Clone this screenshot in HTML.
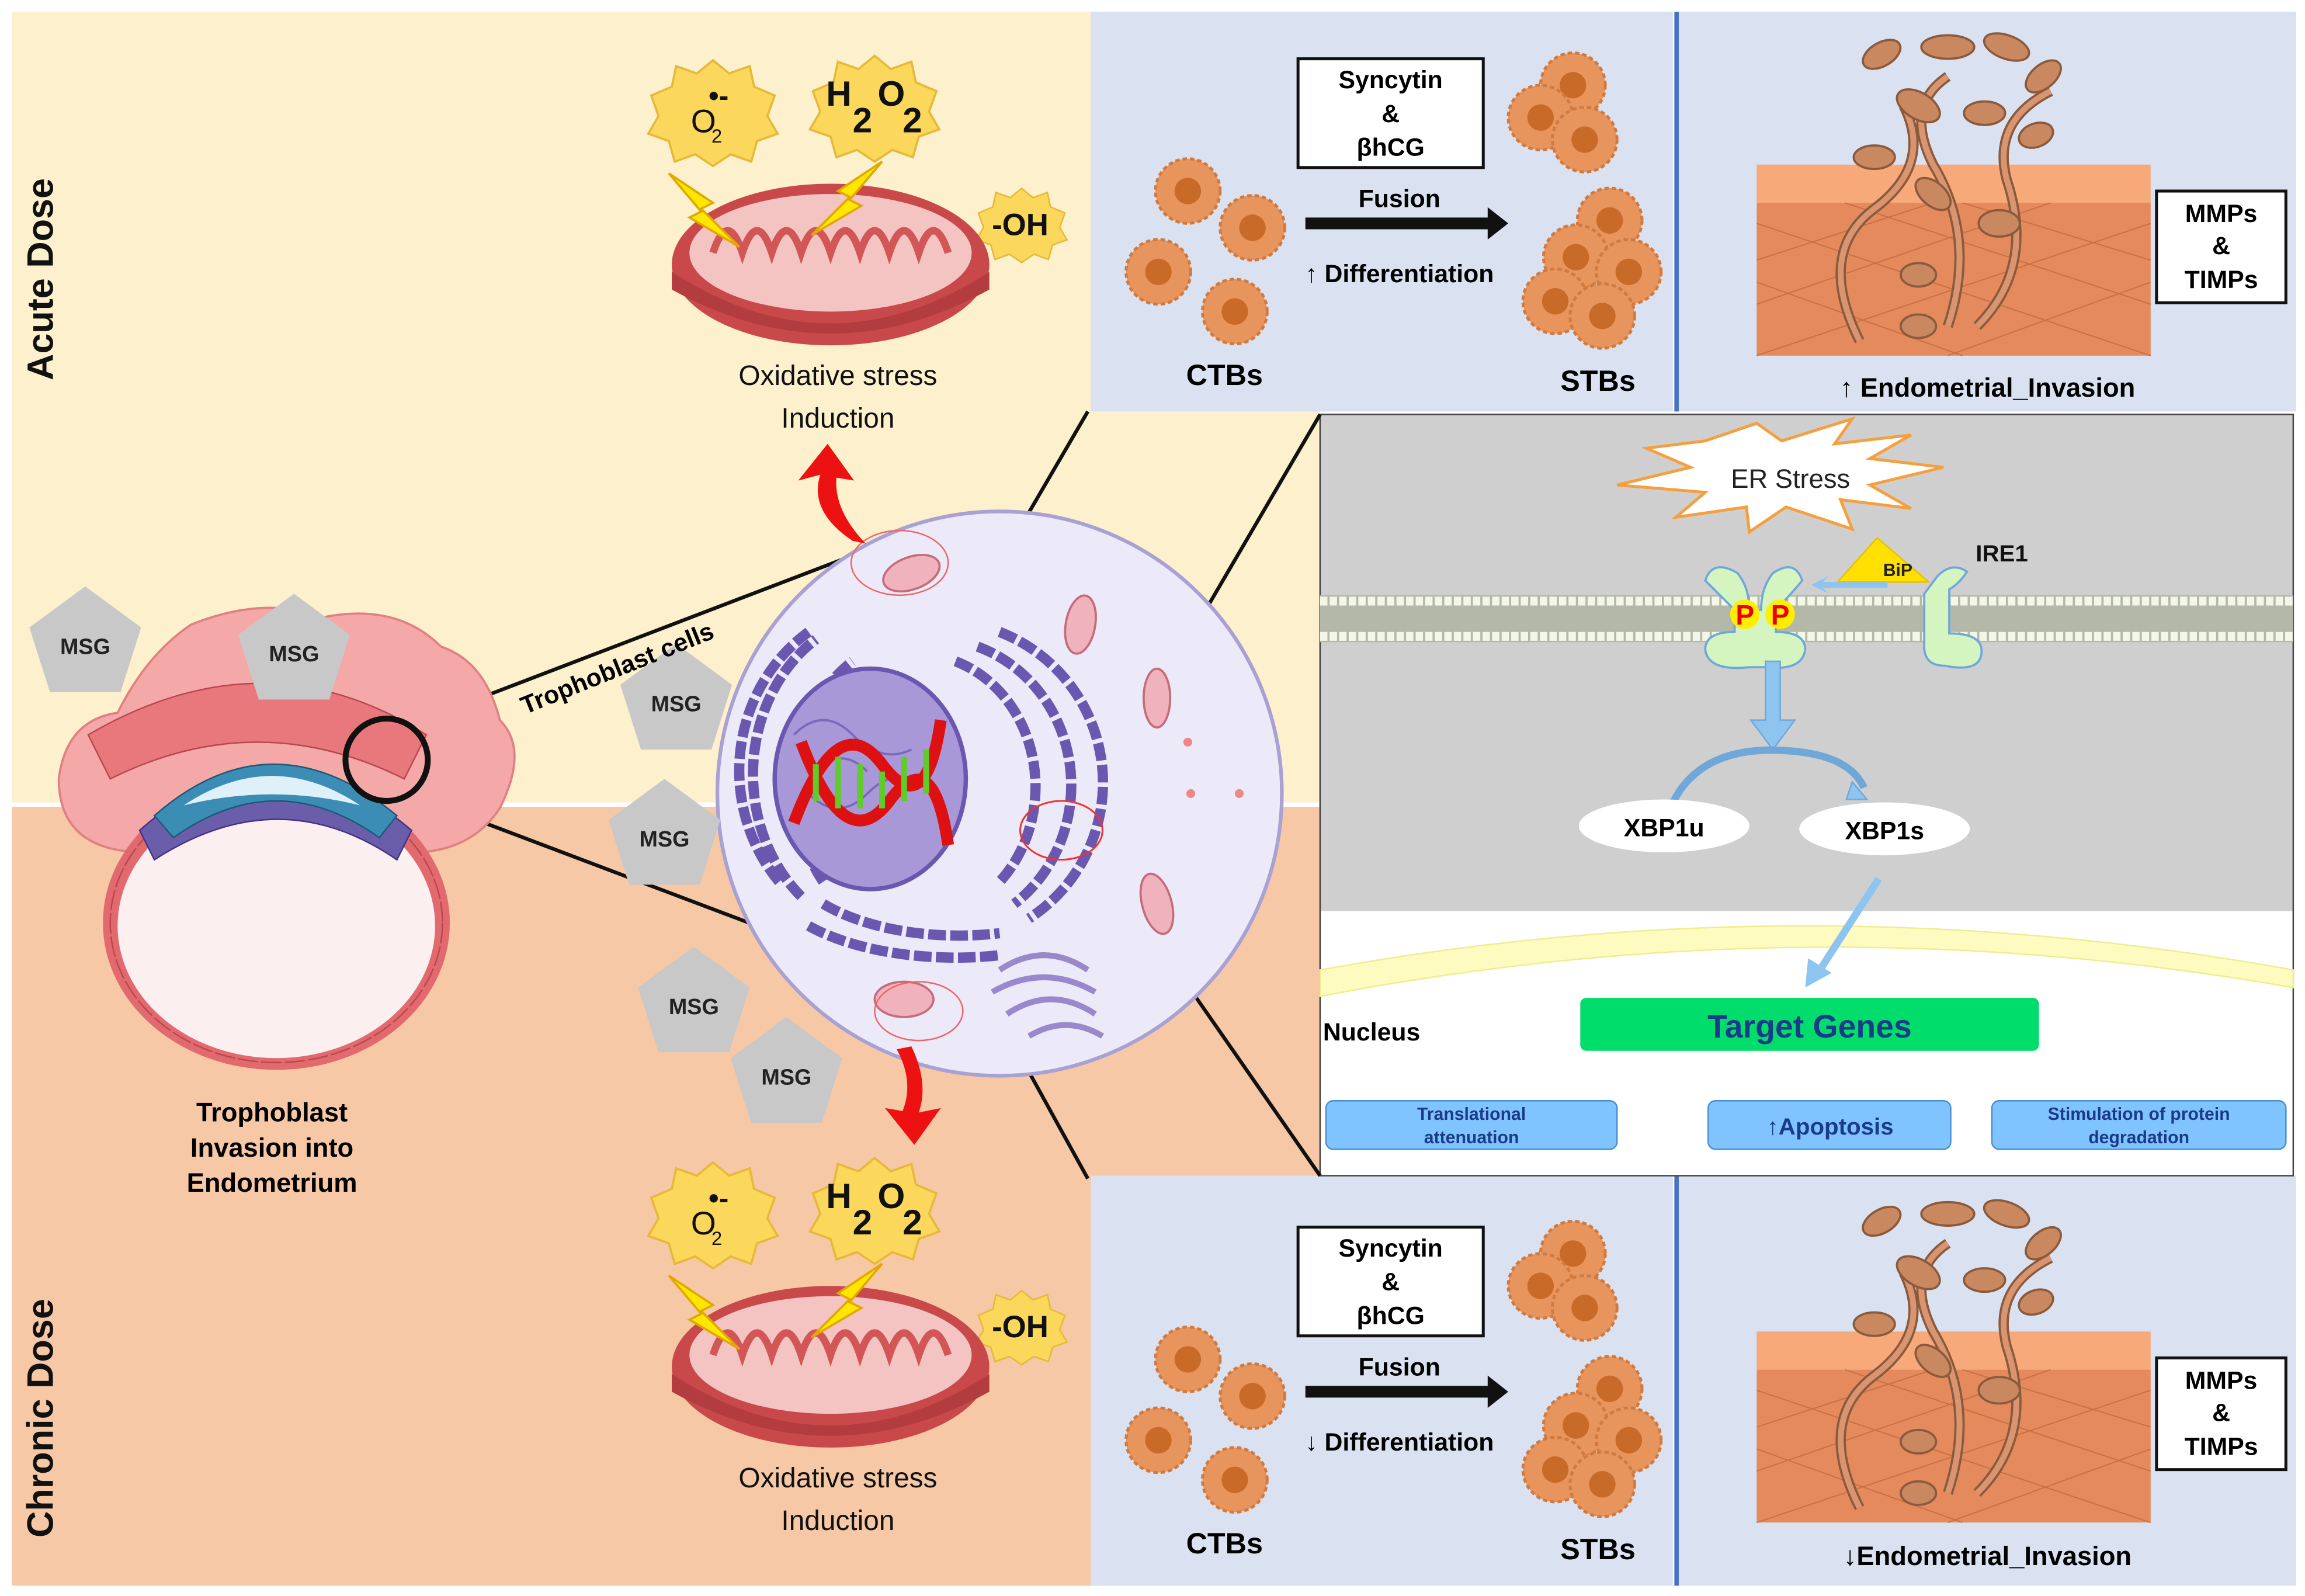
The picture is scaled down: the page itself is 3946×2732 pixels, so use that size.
<!DOCTYPE html>
<html><head><meta charset="utf-8"><style>
html,body{margin:0;padding:0;background:#fff}
svg{display:block}
text{font-family:"Liberation Sans",sans-serif}
</style></head><body>
<svg width="3946" height="2732" viewBox="0 0 1568 1086" preserveAspectRatio="none" xmlns="http://www.w3.org/2000/svg">
<defs>
<g id="mito">
 <ellipse cx="0" cy="0" rx="108" ry="55" fill="#c9494b"/>
 <ellipse cx="0" cy="-8" rx="96" ry="40" fill="#f4c4c2"/>
 <path d="M-80,-8 q10,-30 20,0 q10,-30 20,0 q10,-30 20,0 q10,-30 20,0 q10,-30 20,0 q10,-30 20,0 q10,-30 20,0 q10,-30 20,0" fill="none" stroke="#d25656" stroke-width="5"/>
 <path d="M-108,5 q108,70 216,0 v12 q-108,60 -216,0z" fill="#b23c3e"/>
</g>
<g id="ros">
 <path d="M0,-34 L11,-25 L25,-30 L28,-16 L42,-10 L37,4 L44,16 L30,21 L26,35 L12,30 L0,38 L-12,30 L-26,35 L-30,21 L-44,16 L-37,4 L-42,-10 L-28,-16 L-25,-30 L-11,-25z" fill="#fbd85b" stroke="#e6b93a" stroke-width="1.5"/>
</g>
<g id="bolt"><path d="M0,0 L30,20 L22,24 L48,50 L14,30 L22,26z" fill="#ffe600" stroke="#e0a800" stroke-width="1.5"/></g>
<g id="ctb"><circle r="22" fill="#e8955d" stroke="#d07a40" stroke-width="2" stroke-dasharray="3 2"/><circle r="9" fill="#c86a28"/></g>
<g id="msg"><path d="M0,-38 L38,-10 L24,34 L-24,34 L-38,-10z" fill="#c8c8c8"/><text x="0" y="8" text-anchor="middle" font-size="15" font-weight="bold" fill="#222">MSG</text></g>
<g id="inv">
 <rect x="0" y="100" width="268" height="26" fill="#f8a97a"/>
 <rect x="0" y="126" width="268" height="104" fill="#e48a5c"/>
 <path d="M0,140 L268,230 M0,180 L140,230 M60,126 L268,195 M140,126 L268,165 M268,140 L0,230 M268,180 L130,230 M200,126 L0,195 M120,126 L0,165" stroke="#c87046" stroke-width="0.8"/>
 <path d="M70,220 q-30,-60 10,-90 q40,-30 20,-70 M130,210 q20,-60 -10,-110 q-20,-40 10,-60 M150,210 q40,-40 20,-100 q-10,-40 30,-60" fill="none" stroke="#8a5a3c" stroke-width="7"/>
 <path d="M70,220 q-30,-60 10,-90 q40,-30 20,-70 M130,210 q20,-60 -10,-110 q-20,-40 10,-60 M150,210 q40,-40 20,-100 q-10,-40 30,-60" fill="none" stroke="#d99470" stroke-width="4"/>
 <g fill="#c98860" stroke="#8a5a3c" stroke-width="1.5">
  <ellipse cx="85" cy="25" rx="14" ry="8" transform="rotate(-30 85 25)"/>
  <ellipse cx="130" cy="20" rx="18" ry="8"/>
  <ellipse cx="170" cy="20" rx="16" ry="8" transform="rotate(20 170 20)"/>
  <ellipse cx="195" cy="40" rx="14" ry="8" transform="rotate(-40 195 40)"/>
  <ellipse cx="110" cy="60" rx="16" ry="9" transform="rotate(30 110 60)"/>
  <ellipse cx="155" cy="65" rx="14" ry="8"/>
  <ellipse cx="80" cy="95" rx="14" ry="8"/>
  <ellipse cx="120" cy="120" rx="14" ry="8" transform="rotate(40 120 120)"/>
  <ellipse cx="165" cy="140" rx="14" ry="9"/>
  <ellipse cx="110" cy="175" rx="12" ry="8"/>
  <ellipse cx="190" cy="80" rx="12" ry="8" transform="rotate(-20 190 80)"/>
  <ellipse cx="110" cy="210" rx="12" ry="8"/>
 </g>
</g>
</defs>

<!-- backgrounds -->
<rect x="0" y="0" width="1568" height="1086" fill="#fff"/>
<rect x="8" y="8" width="890" height="538" fill="#fdf0cd"/>
<rect x="8" y="549" width="890" height="530" fill="#f6c8a6"/>
<rect x="742" y="8" width="396" height="272" fill="#dae2f1"/>
<rect x="1142" y="8" width="420" height="272" fill="#dae2f1"/>
<rect x="1139" y="8" width="3" height="272" fill="#4472c4"/>
<rect x="742" y="800" width="396" height="279" fill="#dae2f1"/>
<rect x="1142" y="800" width="420" height="279" fill="#dae2f1"/>
<rect x="1139" y="800" width="3" height="279" fill="#4472c4"/>
<rect x="898" y="282" width="662" height="338" fill="#d0cfd0"/>
<rect x="898" y="620" width="662" height="180" fill="#fff"/>
<rect x="898" y="282" width="662" height="518" fill="none" stroke="#444" stroke-width="1"/>

<text transform="translate(36,190) rotate(-90)" text-anchor="middle" font-size="25" font-weight="bold" fill="#111">Acute Dose</text>
<text transform="translate(36,965) rotate(-90)" text-anchor="middle" font-size="25" font-weight="bold" fill="#111">Chronic Dose</text>

<!-- ROS + mito top -->
<g>
 <use href="#ros" x="485" y="75"/><text x="470" y="90" font-size="22" fill="#111">O</text><text x="484" y="97" font-size="13" fill="#111">2</text><text x="482" y="72" font-size="20" font-weight="bold" fill="#111">•-</text>
 <use href="#ros" x="595" y="72"/><text x="562" y="72" font-size="24" font-weight="bold" fill="#111">H</text><text x="580" y="90" font-size="24" font-weight="bold" fill="#111">2</text><text x="597" y="72" font-size="24" font-weight="bold" fill="#111">O</text><text x="614" y="90" font-size="24" font-weight="bold" fill="#111">2</text>
 <use href="#ros" x="695" y="152" transform="translate(208.5 45.6) scale(0.7)" />
 <use href="#mito" x="565" y="180"/>
 <use href="#bolt" x="455" y="118"/><use href="#bolt" x="660" y="110" transform="translate(1260 0) scale(-1 1)"/>
 <text x="694" y="160" text-anchor="middle" font-size="21" font-weight="bold" fill="#111">-OH</text>
 <text x="570" y="262" text-anchor="middle" font-size="19" fill="#111">Oxidative stress</text>
 <text x="570" y="291" text-anchor="middle" font-size="19" fill="#111">Induction</text>
</g>
<g transform="translate(0,750)">
 <use href="#ros" x="485" y="75"/><text x="470" y="90" font-size="22" fill="#111">O</text><text x="484" y="97" font-size="13" fill="#111">2</text><text x="482" y="72" font-size="20" font-weight="bold" fill="#111">•-</text>
 <use href="#ros" x="595" y="72"/><text x="562" y="72" font-size="24" font-weight="bold" fill="#111">H</text><text x="580" y="90" font-size="24" font-weight="bold" fill="#111">2</text><text x="597" y="72" font-size="24" font-weight="bold" fill="#111">O</text><text x="614" y="90" font-size="24" font-weight="bold" fill="#111">2</text>
 <use href="#ros" x="695" y="152" transform="translate(208.5 45.6) scale(0.7)" />
 <use href="#mito" x="565" y="180"/>
 <use href="#bolt" x="455" y="118"/><use href="#bolt" x="660" y="110" transform="translate(1260 0) scale(-1 1)"/>
 <text x="694" y="160" text-anchor="middle" font-size="21" font-weight="bold" fill="#111">-OH</text>
 <text x="570" y="262" text-anchor="middle" font-size="19" fill="#111">Oxidative stress</text>
 <text x="570" y="291" text-anchor="middle" font-size="19" fill="#111">Induction</text>
</g>

<!-- CTB/STB -->
<g>
 <use href="#ctb" x="808" y="130"/><use href="#ctb" x="852" y="155"/><use href="#ctb" x="788" y="185"/><use href="#ctb" x="840" y="212"/>
 <use href="#ctb" x="1070" y="58"/><use href="#ctb" x="1048" y="80"/><use href="#ctb" x="1078" y="95"/>
 <use href="#ctb" x="1095" y="150"/><use href="#ctb" x="1072" y="175"/><use href="#ctb" x="1108" y="185"/><use href="#ctb" x="1058" y="205"/><use href="#ctb" x="1090" y="215"/>
 <rect x="883" y="40" width="126" height="74" fill="#fff" stroke="#111" stroke-width="2"/>
 <text x="946" y="60" text-anchor="middle" font-size="17" font-weight="bold">Syncytin</text>
 <text x="946" y="83" text-anchor="middle" font-size="17" font-weight="bold">&amp;</text>
 <text x="946" y="106" text-anchor="middle" font-size="17" font-weight="bold">βhCG</text>
 <text x="952" y="141" text-anchor="middle" font-size="17" font-weight="bold">Fusion</text>
 <path d="M888,148 H1012 V141 L1026,152 L1012,163 V156 H888z" fill="#111"/>
 <text x="952" y="192" text-anchor="middle" font-size="17" font-weight="bold">↑ Differentiation</text>
 <text x="833" y="262" text-anchor="middle" font-size="20" font-weight="bold">CTBs</text>
 <text x="1087" y="266" text-anchor="middle" font-size="20" font-weight="bold">STBs</text>
</g>
<g transform="translate(0,795)">
 <use href="#ctb" x="808" y="130"/><use href="#ctb" x="852" y="155"/><use href="#ctb" x="788" y="185"/><use href="#ctb" x="840" y="212"/>
 <use href="#ctb" x="1070" y="58"/><use href="#ctb" x="1048" y="80"/><use href="#ctb" x="1078" y="95"/>
 <use href="#ctb" x="1095" y="150"/><use href="#ctb" x="1072" y="175"/><use href="#ctb" x="1108" y="185"/><use href="#ctb" x="1058" y="205"/><use href="#ctb" x="1090" y="215"/>
 <rect x="883" y="40" width="126" height="74" fill="#fff" stroke="#111" stroke-width="2"/>
 <text x="946" y="60" text-anchor="middle" font-size="17" font-weight="bold">Syncytin</text>
 <text x="946" y="83" text-anchor="middle" font-size="17" font-weight="bold">&amp;</text>
 <text x="946" y="106" text-anchor="middle" font-size="17" font-weight="bold">βhCG</text>
 <text x="952" y="141" text-anchor="middle" font-size="17" font-weight="bold">Fusion</text>
 <path d="M888,148 H1012 V141 L1026,152 L1012,163 V156 H888z" fill="#111"/>
 <text x="952" y="192" text-anchor="middle" font-size="17" font-weight="bold">↓ Differentiation</text>
 <text x="833" y="262" text-anchor="middle" font-size="20" font-weight="bold">CTBs</text>
 <text x="1087" y="266" text-anchor="middle" font-size="20" font-weight="bold">STBs</text>
</g>

<!-- invasion panels -->
<use href="#inv" x="1195" y="12"/>
<rect x="1467" y="130" width="88" height="76" fill="#fff" stroke="#111" stroke-width="2"/>
<text x="1511" y="151" text-anchor="middle" font-size="17" font-weight="bold">MMPs</text>
<text x="1511" y="173" text-anchor="middle" font-size="17" font-weight="bold">&amp;</text>
<text x="1511" y="196" text-anchor="middle" font-size="17" font-weight="bold">TIMPs</text>
<text x="1352" y="270" text-anchor="middle" font-size="18" font-weight="bold">↑ Endometrial_Invasion</text>
<use href="#inv" x="1195" y="806"/>
<rect x="1467" y="924" width="88" height="76" fill="#fff" stroke="#111" stroke-width="2"/>
<text x="1511" y="945" text-anchor="middle" font-size="17" font-weight="bold">MMPs</text>
<text x="1511" y="967" text-anchor="middle" font-size="17" font-weight="bold">&amp;</text>
<text x="1511" y="990" text-anchor="middle" font-size="17" font-weight="bold">TIMPs</text>
<text x="1352" y="1065" text-anchor="middle" font-size="18" font-weight="bold">↓Endometrial_Invasion</text>

<!-- ER panel -->
<path d="M1120,305 L1160,300 L1195,288 L1212,300 L1260,285 L1248,302 L1300,296 L1272,312 L1322,318 L1272,330 L1300,346 L1252,340 L1260,360 L1215,345 L1190,362 L1188,345 L1140,352 L1160,335 L1100,330 L1150,318z" fill="#fff" stroke="#f5a040" stroke-width="2"/>
<text x="1218" y="332" text-anchor="middle" font-size="18" fill="#222">ER Stress</text>
<rect x="898" y="405" width="662" height="32" fill="#b4b8a8"/>
<line x1="898" y1="409" x2="1560" y2="409" stroke="#f4f7e8" stroke-width="6" stroke-dasharray="5 1.5"/>
<line x1="898" y1="433" x2="1560" y2="433" stroke="#f4f7e8" stroke-width="6" stroke-dasharray="5 1.5"/>
<path d="M1160,395 q5,-15 22,-5 q8,10 8,25 h8 q0,-15 8,-25 q15,-10 20,5 q-10,12 -18,20 v15 q20,0 20,12 q-2,15 -28,12 h-10 q-28,3 -30,-12 q0,-12 20,-12 v-15 q-8,-8 -20,-20z" fill="#d5f5c0" stroke="#6fa8d8" stroke-width="1.5"/>
<circle cx="1187" cy="418" r="10" fill="#ffee00"/><circle cx="1211" cy="418" r="10" fill="#ffee00"/>
<text x="1187" y="425" text-anchor="middle" font-size="19" font-weight="bold" fill="#e00">P</text>
<text x="1211" y="425" text-anchor="middle" font-size="19" font-weight="bold" fill="#e00">P</text>
<path d="M1318,392 q10,-10 20,-3 q-5,8 -12,12 v30 q22,0 22,12 q0,15 -25,10 q-15,0 -14,-15 v-34z" fill="#d5f5c0" stroke="#6fa8d8" stroke-width="1.5"/>
<path d="M1250,396 L1277,366 L1312,396z" fill="#ffe000" stroke="#e8c000"/>
<text x="1291" y="392" text-anchor="middle" font-size="12" font-weight="bold" fill="#222">BiP</text>
<path d="M1284,396 H1240 L1244,392 L1232,398 L1244,404 L1240,400 H1284z" fill="#8ec4f0"/>
<text x="1344" y="382" font-size="16" font-weight="bold" fill="#111">IRE1</text>
<path d="M1201,450 h10 v40 h10 l-15,20 l-15,-20 h10z" fill="#8ec4f0" stroke="#6fa8d8"/>
<path d="M1138,546 q20,-40 80,-35 q40,3 50,25" fill="none" stroke="#6fa8d8" stroke-width="5"/>
<path d="M1260,532 l10,12 l-14,0z" fill="#8ec4f0" stroke="#6fa8d8"/>
<ellipse cx="1132" cy="562" rx="58" ry="18" fill="#fff"/><text x="1132" y="569" text-anchor="middle" font-size="17" font-weight="bold">XBP1u</text>
<ellipse cx="1282" cy="564" rx="58" ry="18" fill="#fff"/><text x="1282" y="571" text-anchor="middle" font-size="17" font-weight="bold">XBP1s</text>
<path d="M898,660 q330,-60 662,0 v12 q-330,-58 -662,6z" fill="#fdfbc0" stroke="#f0ec90"/>
<line x1="1278" y1="598" x2="1238" y2="660" stroke="#8ec4f0" stroke-width="5"/>
<path d="M1228,672 l2,-20 l16,10z" fill="#8ec4f0"/>
<text x="900" y="708" font-size="17" font-weight="bold">Nucleus</text>
<rect x="1075" y="679" width="312" height="36" rx="4" fill="#00dd6a"/>
<text x="1231" y="706" text-anchor="middle" font-size="22" font-weight="bold" fill="#1a3a8a">Target Genes</text>
<rect x="902" y="749" width="198" height="33" rx="5" fill="#80c4ff" stroke="#4a90d0"/>
<text x="1001" y="762" text-anchor="middle" font-size="12" font-weight="bold" fill="#1a3a8a">Translational</text>
<text x="1001" y="778" text-anchor="middle" font-size="12" font-weight="bold" fill="#1a3a8a">attenuation</text>
<rect x="1162" y="749" width="165" height="33" rx="5" fill="#80c4ff" stroke="#4a90d0"/>
<text x="1245" y="772" text-anchor="middle" font-size="16" font-weight="bold" fill="#1a3a8a">↑Apoptosis</text>
<rect x="1355" y="749" width="200" height="33" rx="5" fill="#80c4ff" stroke="#4a90d0"/>
<text x="1455" y="762" text-anchor="middle" font-size="12" font-weight="bold" fill="#1a3a8a">Stimulation of protein</text>
<text x="1455" y="778" text-anchor="middle" font-size="12" font-weight="bold" fill="#1a3a8a">degradation</text>

<!-- connector lines -->
<g stroke="#111" stroke-width="2.5">
<line x1="740" y1="280" x2="600" y2="520"/>
<line x1="740" y1="802" x2="590" y2="530"/>
<line x1="898" y1="282" x2="740" y2="552"/>
<line x1="898" y1="800" x2="745" y2="580"/>
<line x1="282" y1="492" x2="580" y2="378"/>
<line x1="290" y1="545" x2="515" y2="630"/>
</g>

<!-- cell -->
<circle cx="680" cy="540" r="192" fill="#ece9f8" stroke="#a9a0d4" stroke-width="2.5"/>
<g fill="none" stroke="#6a58b0" stroke-width="7" stroke-dasharray="12 3">
 <path d="M560,600 a80,100 0 0 1 20,-150"/>
 <path d="M545,610 a95,110 0 0 1 10,-175"/>
 <path d="M530,600 a110,115 0 0 1 20,-170"/>
 <path d="M650,450 a80,90 0 0 1 30,150"/>
 <path d="M665,440 a95,100 0 0 1 25,175"/>
 <path d="M680,430 a110,110 0 0 1 20,195"/>
 <path d="M560,615 a120,60 0 0 0 120,20"/>
 <path d="M550,630 a130,60 0 0 0 130,20"/>
</g>
<ellipse cx="592" cy="530" rx="65" ry="75" fill="#a898d8" stroke="#6a58b0" stroke-width="3"/>
<path d="M540,500 q20,-20 40,0 t40,10 M550,540 q20,20 40,0 t40,-5 M560,520 q15,-10 30,5" fill="none" stroke="#7a68b8" stroke-width="1.5"/>
<path d="M540,560 q30,-80 60,-40 t40,-30" fill="none" stroke="#dd1111" stroke-width="8"/>
<path d="M545,505 q30,80 60,40 t40,30" fill="none" stroke="#dd1111" stroke-width="8"/>
<path d="M555,520 l0,25 M570,515 l0,35 M585,520 l0,30 M600,525 l0,25 M615,515 l0,30 M630,510 l0,30" stroke="#5fcc2a" stroke-width="4"/>
<path d="M680,660 q30,-20 60,0 M675,675 q35,-20 70,0 M685,690 q30,-20 60,0 M700,705 q25,-15 50,0" fill="none" stroke="#9a88cc" stroke-width="4"/>
<g fill="#f0b2bd" stroke="#c46d7a" stroke-width="1.5">
 <ellipse cx="620" cy="390" rx="20" ry="11" transform="rotate(-20 620 390)"/>
 <ellipse cx="735" cy="425" rx="10" ry="20" transform="rotate(10 735 425)"/>
 <ellipse cx="787" cy="475" rx="9" ry="20"/>
 <ellipse cx="787" cy="615" rx="10" ry="21" transform="rotate(-15 787 615)"/>
 <ellipse cx="615" cy="680" rx="20" ry="12"/>
</g>
<ellipse cx="612" cy="383" rx="33" ry="22" fill="none" stroke="#e66" stroke-width="1"/>
<ellipse cx="722" cy="565" rx="28" ry="20" fill="none" stroke="#e33" stroke-width="1.2"/>
<ellipse cx="625" cy="688" rx="30" ry="20" fill="none" stroke="#e66" stroke-width="1"/>
<circle cx="810" cy="540" r="3" fill="#e88"/><circle cx="843" cy="540" r="3" fill="#e88"/><circle cx="808" cy="505" r="3" fill="#e88"/>

<!-- red arrows -->
<path d="M580,368 q-30,-20 -22,-45 l-15,4 l20,-25 l18,25 l-12,-2 q-2,22 20,45z" fill="#ee1111"/>
<path d="M620,712 q12,25 5,45 l15,-3 l-18,25 l-20,-25 l12,2 q8,-20 -4,-42z" fill="#ee1111"/>

<!-- embryo -->
<path d="M40,530 q5,-40 40,-45 q20,-40 50,-60 q50,-20 90,-5 q50,-10 80,20 q30,10 40,50 q20,20 0,60 q-20,30 -60,30 h-180 q-60,0 -60,-50z" fill="#f4a8a8" stroke="#e08080" stroke-width="1.5"/>
<ellipse cx="188" cy="628" rx="118" ry="100" fill="#e26a6e"/>
<ellipse cx="188" cy="630" rx="108" ry="90" fill="#fbeff0"/>
<g fill="none" stroke="#b84850" stroke-width="1" stroke-dasharray="14 2">
<ellipse cx="188" cy="628" rx="113" ry="95"/></g>
<path d="M95,565 q90,-80 185,0 l-10,20 q-80,-55 -165,0z" fill="#6a5eaa" stroke="#443388"/>
<path d="M105,555 q80,-70 165,0 l-12,15 q-70,-50 -140,0z" fill="#3b8db5" stroke="#1d5a78"/>
<path d="M125,548 q60,-40 120,0 q-60,-15 -120,0z" fill="#dff0f8"/>
<path d="M60,500 q120,-70 230,0 l-15,30 q-100,-50 -200,0z" fill="#e8787c" stroke="#b84850" stroke-width="1"/>
<circle cx="263" cy="517" r="28" fill="none" stroke="#111" stroke-width="4"/>
<use href="#msg" x="58" y="437"/>
<use href="#msg" x="200" y="442"/>
<use href="#msg" x="460" y="476"/>
<use href="#msg" x="452" y="568"/>
<use href="#msg" x="472" y="682"/>
<use href="#msg" x="535" y="730"/>
<text transform="translate(422,460) rotate(-22)" text-anchor="middle" font-size="17" font-weight="bold">Trophoblast cells</text>
<text x="185" y="763" text-anchor="middle" font-size="18" font-weight="bold">Trophoblast</text>
<text x="185" y="787" text-anchor="middle" font-size="18" font-weight="bold">Invasion into</text>
<text x="185" y="811" text-anchor="middle" font-size="18" font-weight="bold">Endometrium</text>
</svg>
</body></html>
